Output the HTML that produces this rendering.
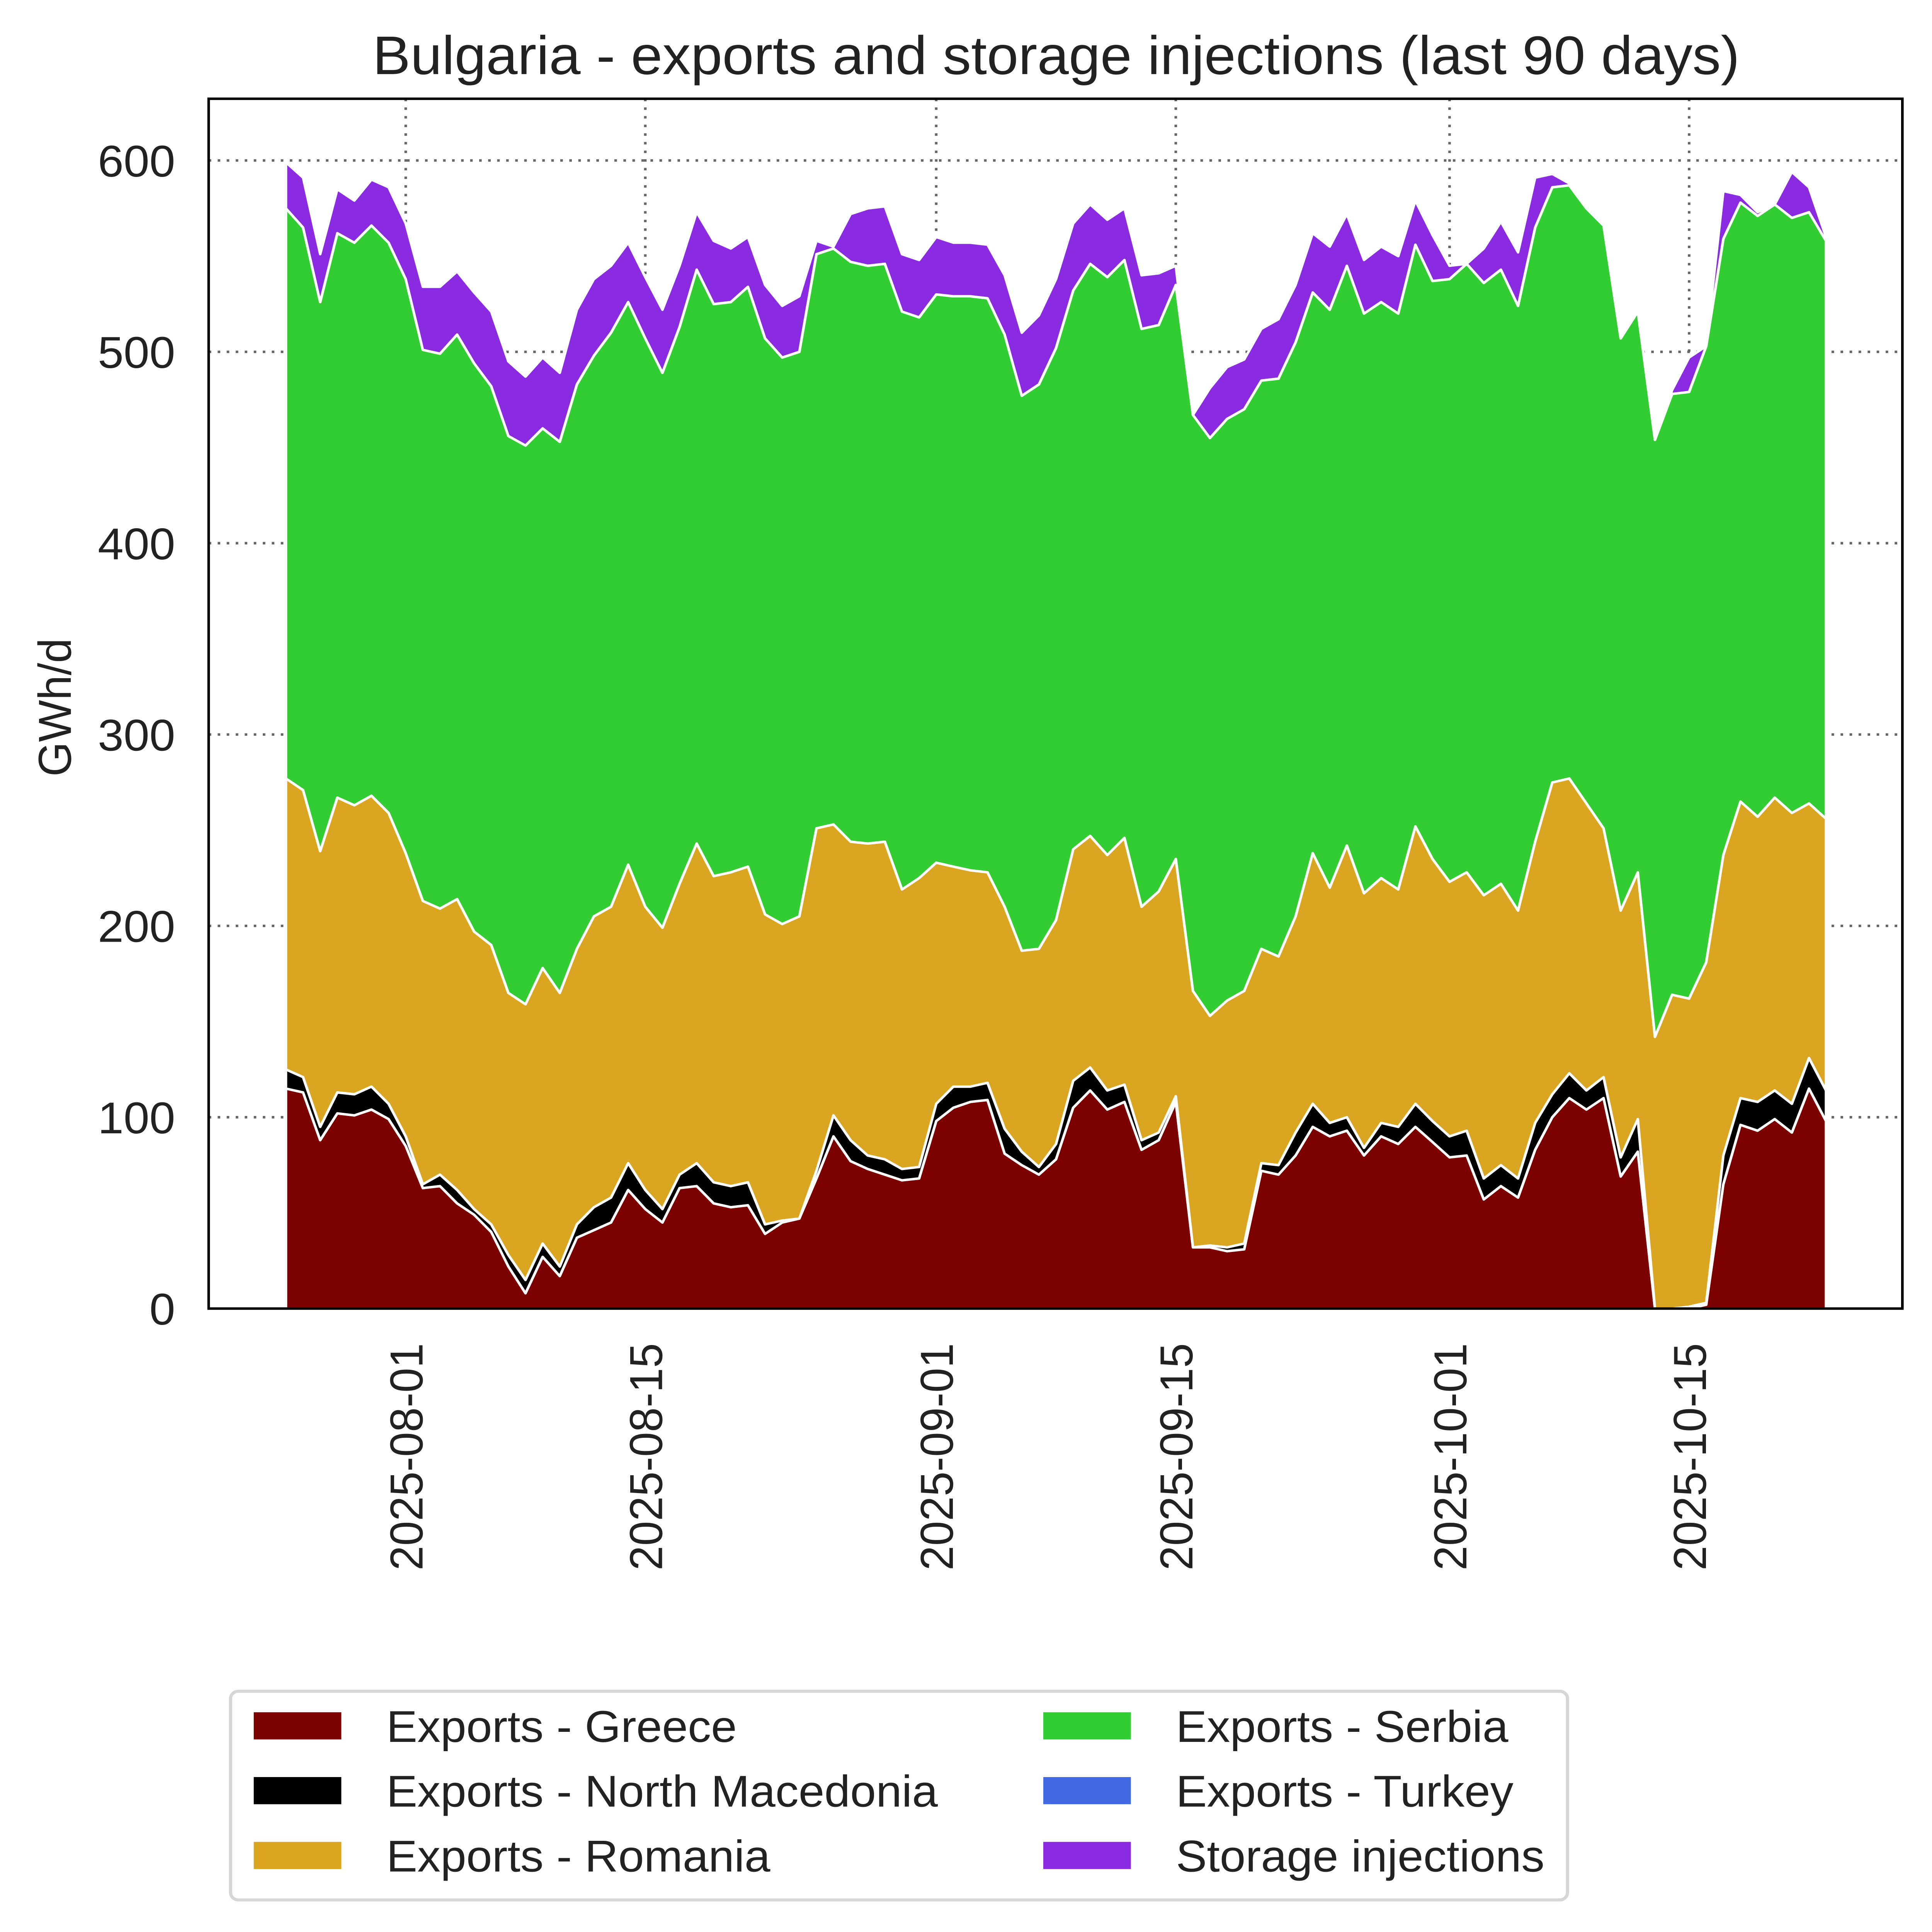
<!DOCTYPE html>
<html><head><meta charset="utf-8"><style>
html,body{margin:0;padding:0;background:#fff;overflow:hidden;width:100vw;height:100vh;}
svg{display:block;position:fixed;left:0;top:0;width:100vw;height:100vh;font-family:"Liberation Sans",Arial,sans-serif;}
</style></head><body>
<svg id="chart" viewBox="0 0 1500 1565" preserveAspectRatio="none" xmlns="http://www.w3.org/2000/svg">
<rect x="0" y="0" width="1500" height="1565" fill="#fff"/>
<text x="820" y="60" font-size="44" text-anchor="middle" fill="#222">Bulgaria - exports and storage injections (last 90 days)</text>
<g id="grid"></g>
<g id="areas"></g>
<rect x="162" y="80" width="1315" height="980" fill="none" stroke="#000" stroke-width="2"/>
<g id="yticks"></g>
<g id="xticks"></g>
<text transform="translate(55,573) rotate(-90)" font-size="36" text-anchor="middle" fill="#222">GWh/d</text>
<g id="legend">
<rect x="179" y="1370" width="1038" height="169" rx="6" fill="#fff" stroke="#d6d6d6" stroke-width="2.5"/>
</g>
</svg>
<script>
const startDate = "2025-07-25";
const greece = [115,113,88,102,101,104,99,85,63,64,55,49,40,22,8,27,17,37,41,45,62,52,45,63,64,55,53,54,39,45,47,68,90,77,73,70,67,68,98,105,108,109,81,75,70,78,105,114,104,108,83,88,108,32,32,30,31,72,70,80,95,90,93,80,90,86,95,87,79,80,57,64,58,83,100,110,104,110,69,82,0,0,0,2,65,96,93,99,92,115,98];
const northMacedonia = [10,8,7,11,11,12,8,5,2,6,7,3,4,6,7,7,5,7,12,13,14,10,7,7,12,11,11,12,5,1,0,4,11,11,7,8,6,6,9,11,8,9,13,7,4,8,14,12,10,9,5,4,3,0,1,2,3,4,5,12,12,7,7,4,7,9,12,11,11,13,11,11,10,14,12,13,10,11,10,17,0,0,1,1,15,14,15,15,15,16,16];
const romania = [152,150,144,154,151,152,152,148,148,139,152,145,146,137,144,144,143,144,152,152,156,148,147,152,167,160,164,165,162,155,158,179,152,156,163,166,146,151,126,115,113,110,116,105,114,117,121,121,123,129,122,126,124,134,120,129,132,112,109,113,131,123,142,133,128,124,145,137,133,135,148,147,140,147,163,154,150,130,129,129,142,164,161,178,157,155,149,153,152,133,142];
const serbia = [298,294,287,295,294,298,298,300,288,290,295,297,292,291,292,282,288,295,293,300,294,297,290,291,300,299,298,303,301,296,295,300,301,303,302,302,302,293,297,298,300,300,299,290,295,299,292,299,302,302,302,296,300,301,302,304,304,297,302,300,293,302,303,303,301,301,304,302,315,318,320,321,316,321,311,310,311,315,299,293,312,314,317,322,322,313,314,310,311,309,302];
const turkey = new Array(91).fill(0);
const storage = [24,26,25,23,22,24,29,29,33,35,33,37,39,39,36,37,36,39,40,35,31,32,33,32,30,33,28,26,28,27,29,7,1,25,30,30,30,30,30,28,28,28,31,33,36,36,35,31,30,27,28,27,10,0,26,27,26,27,31,30,31,33,27,28,29,30,23,24,7,0,18,25,28,26,7,1,0,0,0,0,0,2,18,0,25,4,2,0,24,13,2];
const seriesNames = ["Exports - Greece","Exports - North Macedonia","Exports - Romania","Exports - Serbia","Exports - Turkey","Storage injections"];
const yTicks = [0,100,200,300,400,500,600];
const xTickLabels = ["2025-08-01","2025-08-15","2025-09-01","2025-09-15","2025-10-01","2025-10-15"];

const colors = ["#7b0000","#000000","#daa520","#32cd32","#4169e1","#8a2be2"];
const NS="http://www.w3.org/2000/svg";
const X0=162,X1=1477,Y0=1060;
const dayMs=86400000;
const ref=Date.parse("2025-08-01T00:00:00Z");
function xDate(ms){return 315+(ms-ref)/dayMs*13.286;}
function xi(i){return xDate(Date.parse(startDate+"T00:00:00Z")+i*dayMs);}
function y(v){return Y0-v*1.55;}
function mk(tag,attrs,parent){const e=document.createElementNS(NS,tag);for(const k in attrs)e.setAttribute(k,attrs[k]);parent.appendChild(e);return e;}

const grid=document.getElementById('grid');
const yt=document.getElementById('yticks');
yTicks.forEach(v=>{
  if(v>0){const l=mk('line',{x1:X0,x2:X1,y1:y(v),y2:y(v),stroke:'#666','stroke-width':2,'stroke-dasharray':'2,5'},grid);
  
  }
  const t=mk('text',{x:X0-26,y:y(v)+13,'font-size':36,'text-anchor':'end',fill:'#222'},yt);
  t.textContent=v;
  
  
});
const xt=document.getElementById('xticks');
xTickLabels.forEach(s=>{
  const x=xDate(Date.parse(s+"T00:00:00Z"));
  const l=mk('line',{x1:x,x2:x,y1:80,y2:Y0,stroke:'#666','stroke-width':2,'stroke-dasharray':'2,5'},grid);
  
  
  const t=mk('text',{transform:`translate(${x+13},1088) rotate(-90)`,'font-size':36,'text-anchor':'end',fill:'#222'},xt);
  t.textContent=s;
  
  
});

const series=[greece,northMacedonia,romania,serbia,turkey,storage];
const areas=document.getElementById('areas');
const n=greece.length;
let base=new Array(n).fill(0);
series.forEach((s,k)=>{
  const top=base.map((b,i)=>b+s[i]);
  let d='';
  for(let i=0;i<n;i++)d+=(i?'L':'M')+xi(i).toFixed(1)+','+y(top[i]).toFixed(1);
  for(let i=n-1;i>=0;i--)d+='L'+xi(i).toFixed(1)+','+y(base[i]).toFixed(1);
  d+='Z';
  const p=mk('path',{d:d,fill:colors[k],stroke:'#fff','stroke-width':2,'stroke-linejoin':'round'},areas);
  
  
  base=top;
});

const lg=document.getElementById('legend');
seriesNames.forEach((nm,k)=>{
  const col=k<3?0:1, row=k%3;
  const px=col?810:197, ty=1398+row*52.5;
  const r=mk('rect',{x:px,y:ty-11,width:68,height:22,fill:colors[k]},lg);
  
  
  const t=mk('text',{x:px+103,y:ty+13,'font-size':36,fill:'#222'},lg);
  t.textContent=nm;
  
  
});
</script>
</body></html>
